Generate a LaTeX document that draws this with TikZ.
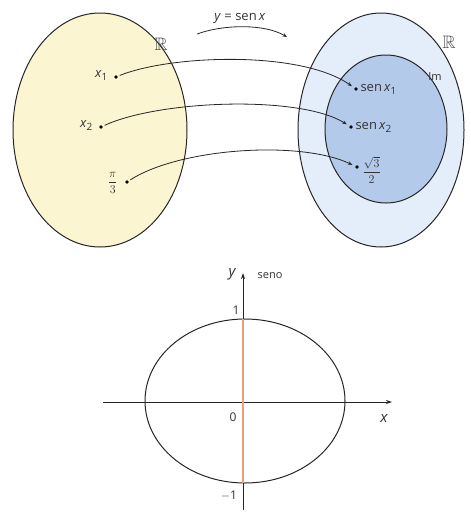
\documentclass[tikz,border=0pt]{standalone}
\usepackage{amssymb}
\usepackage{fontspec}
\setsansfont{Open Sans}
\usetikzlibrary{arrows.meta}
\definecolor{cream}{HTML}{FBF5D2}
\definecolor{paleblue}{HTML}{E4EEFA}
\definecolor{midblue}{HTML}{B4CAEB}
\definecolor{axisorange}{HTML}{E9A277}
\tikzset{
  setline/.style={draw=black!85, line width=1pt},
  pt/.style={circle, fill=black, inner sep=0pt, minimum size=3.6pt},
  lbl/.style={font=\sffamily\fontsize{13}{15}\selectfont, text=black!80},
  big/.style={font=\fontsize{18}{20}\selectfont, text=black!70},
  maparrow/.style={draw=black!85, line width=0.8pt, -{Stealth[length=4.5pt,width=3.5pt]}, shorten >=3pt, shorten <=2pt},
  axis/.style={draw=black!85, line width=0.9pt},
}
\begin{document}
\begin{tikzpicture}[x=1pt,y=-1pt]
\useasboundingbox (0,0) rectangle (471,517);
% left set
\draw[setline, fill=cream] (100,130) ellipse [x radius=87, y radius=117];
\node[big] (RL) at (161,44) {$\mathbb{R}$};
% right sets
\draw[setline, fill=paleblue] (381,130) ellipse [x radius=83, y radius=117];
\draw[setline, fill=midblue] (386,129) ellipse [x radius=61, y radius=74];
\node[big] (RR) at (449,42) {$\mathbb{R}$};
\node[lbl, font=\sffamily\fontsize{11}{13}\selectfont] (Im) at (435,77) {Im};
% points left
\node[pt] (a1) at (116,77) {};
\node[pt] (a2) at (101,127) {};
\node[pt] (a3) at (127,182) {};
\node[lbl, anchor=east] (la1) at (111,76) {\textit{x}\raisebox{-3pt}{\fontsize{10}{12}\selectfont 1}};
\node[lbl, anchor=east] (la2) at (96,126) {\textit{x}\raisebox{-3pt}{\fontsize{10}{12}\selectfont 2}};
\node[lbl, anchor=east, font=\fontsize{13}{15}\selectfont] (la3) at (121,183) {$\displaystyle\frac{\pi}{3}$};
% points right
\node[pt] (b1) at (356,89) {};
\node[pt] (b2) at (351,127) {};
\node[pt] (b3) at (357,167) {};
\node[lbl, anchor=west] (lb1) at (357,89) {sen\,\textit{x}\raisebox{-3pt}{\fontsize{10}{12}\selectfont 1}};
\node[lbl, anchor=west] (lb2) at (352,127) {sen\,\textit{x}\raisebox{-3pt}{\fontsize{10}{12}\selectfont 2}};
\node[lbl, anchor=west, font=\fontsize{13}{15}\selectfont] (lb3) at (359,170) {$\displaystyle\frac{\sqrt{3}}{2}$};
% mapping curves
\draw[maparrow] (a1) .. controls (170,55) and (300,50) .. (b1);
\draw[maparrow] (a2) .. controls (160,100) and (300,95) .. (b2);
\draw[maparrow] (a3) .. controls (180,148) and (300,140) .. (b3);
% function label
\node[lbl] (fn) at (240,19) {\textit{y} = sen\,\textit{x}};
\coordinate (fs) at (197,34);
\coordinate (fe) at (287,37);
\draw[draw=black!85, line width=0.8pt, -{Stealth[length=4.5pt,width=3.5pt]}] (fs) .. controls (225,24) and (265,24) .. (fe);
% bottom graph
\coordinate (xl) at (103,402);
\coordinate (xr) at (392,402);
\coordinate (yb) at (243,510);
\coordinate (yt) at (243,273);
\coordinate (ot) at (243,319);
\coordinate (ob) at (243,483);
\draw[setline] (245,401) ellipse [x radius=100, y radius=82];
\draw[axis, -{Stealth[length=6pt,width=4pt]}] (xl) -- (xr);
\draw[axis, -{Stealth[length=6pt,width=4pt]}] (yb) -- (yt);
\draw[axisorange, line width=1.2pt] (ot) -- (ob);
\node[lbl, font=\sffamily\fontsize{15}{17}\selectfont\itshape] (ly) at (232,274) {y};
\node[lbl, font=\sffamily\fontsize{11}{13}\selectfont] (ls) at (270,276) {seno};
\node[lbl, font=\sffamily\fontsize{12}{14}\selectfont] (l1) at (236,310) {1};
\node[lbl, font=\sffamily\fontsize{12}{14}\selectfont] (l0) at (233,417) {0};
\node[lbl, font=\sffamily\fontsize{15}{17}\selectfont\itshape] (lx) at (384,418) {x};
\node[lbl, font=\sffamily\fontsize{12}{14}\selectfont] (lm1) at (229,496) {$-$1};
\end{tikzpicture}
\end{document}
